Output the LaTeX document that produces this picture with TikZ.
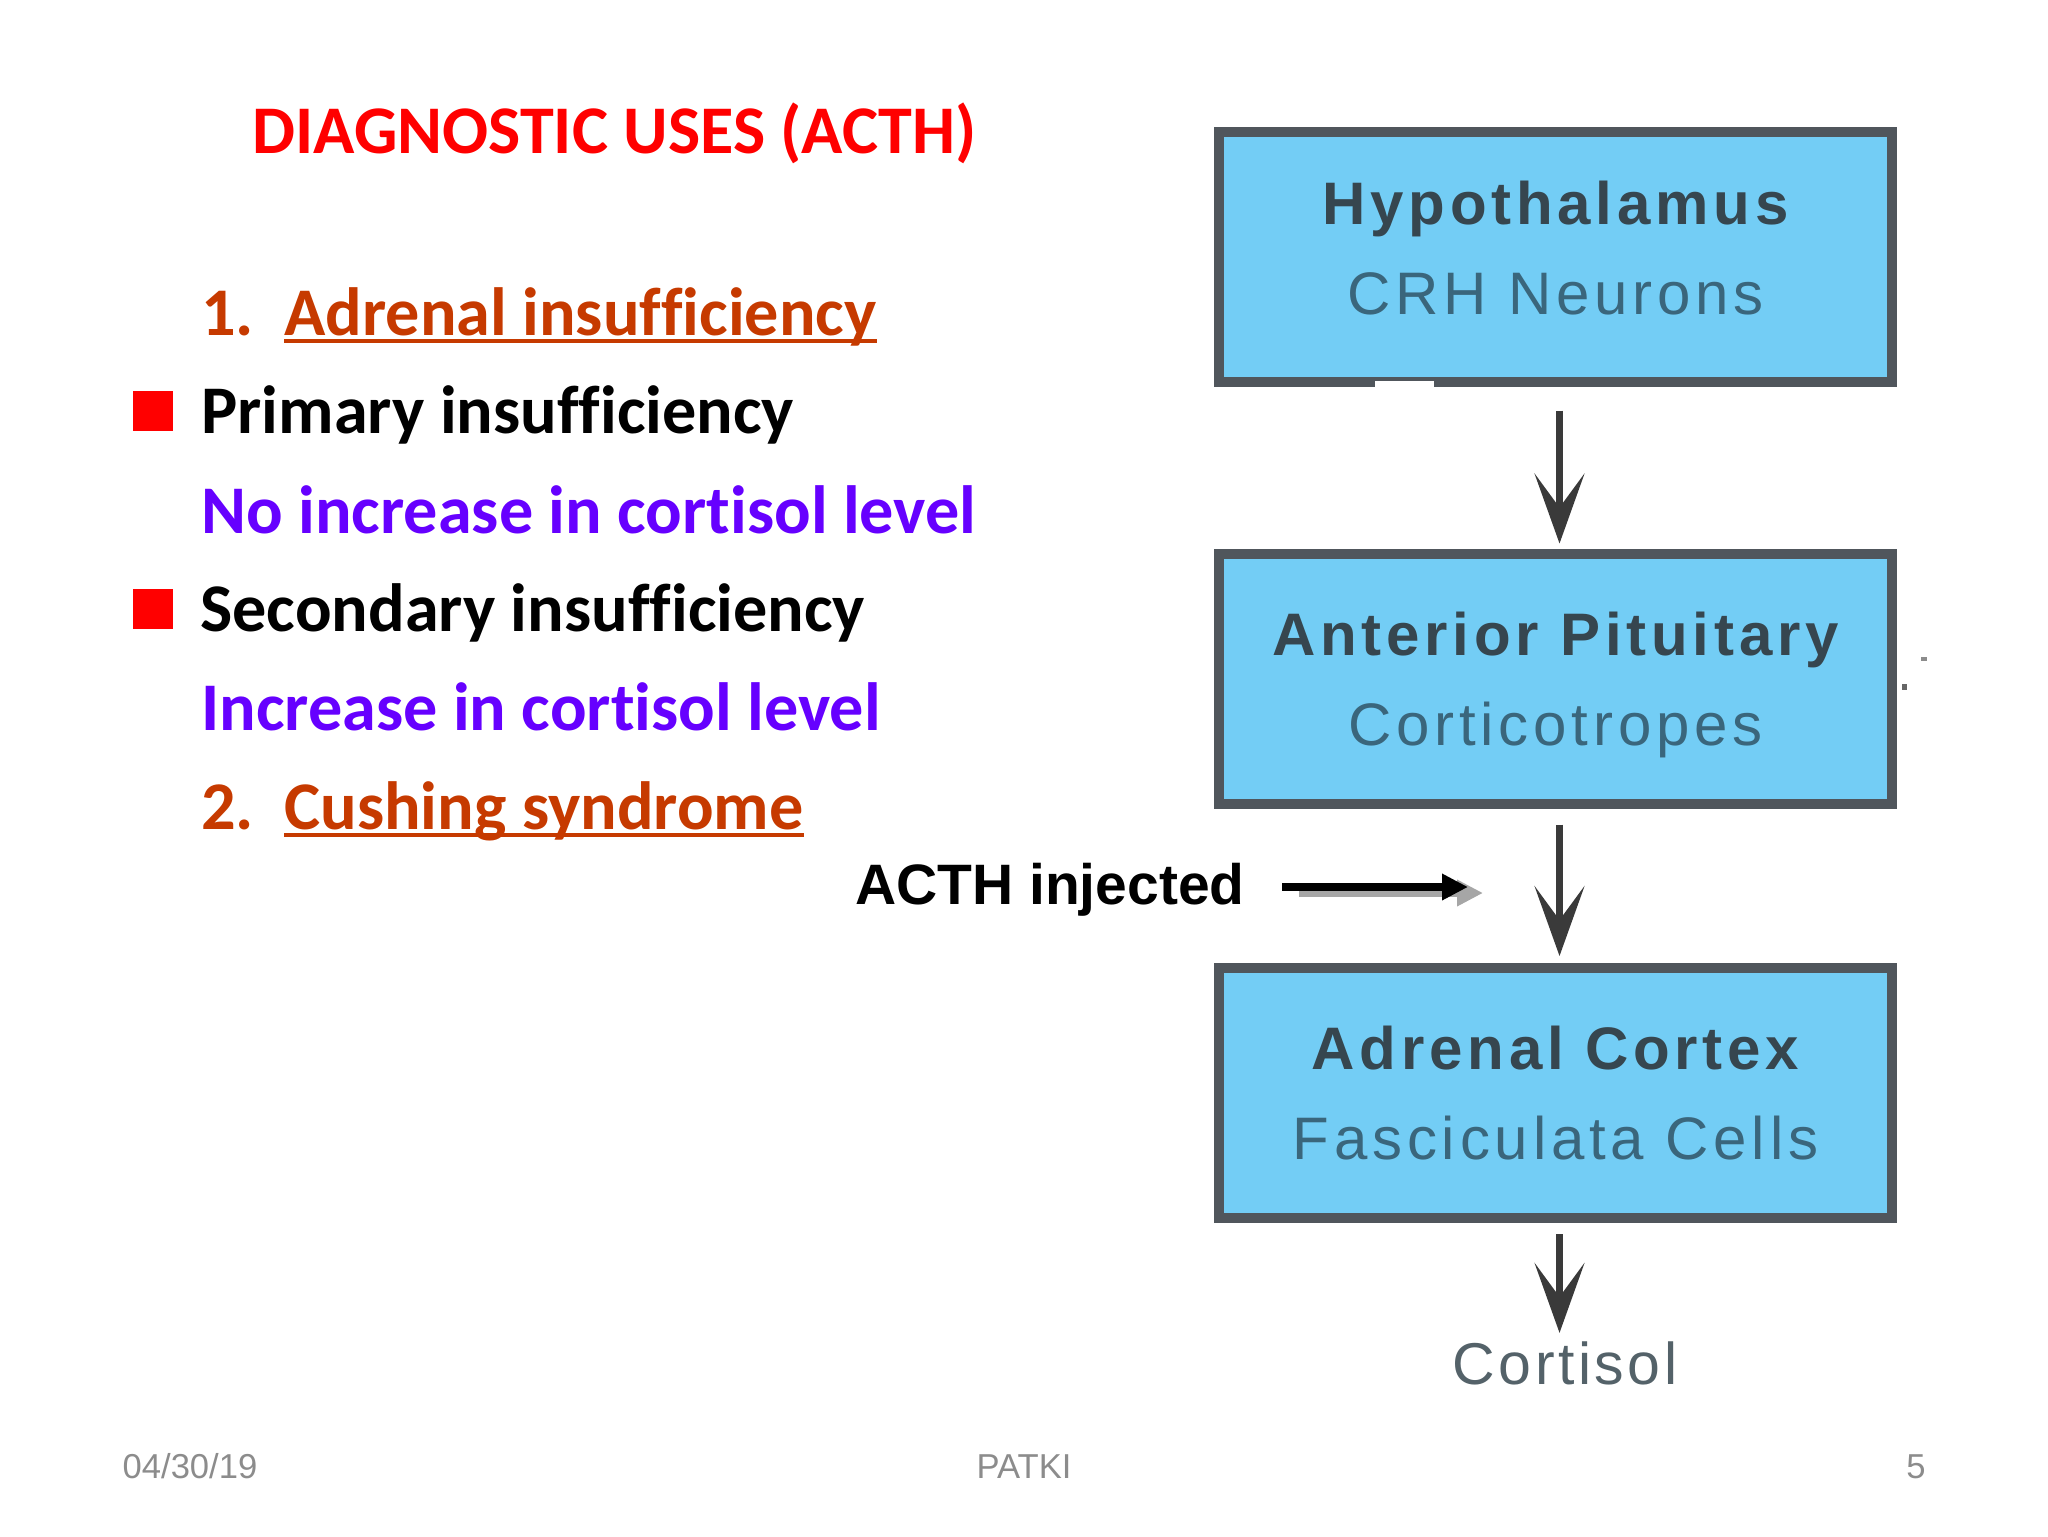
\documentclass[tikz,border=0pt]{standalone}
\usepackage{fontspec}
\setmainfont[Ligatures=NoCommon]{Carlito}
\newfontfamily\arialfont{Liberation Sans}
\newfontfamily\boxfont[LetterSpace=8]{Liberation Sans}
\newfontfamily\tightfont[LetterSpace=6]{Liberation Sans}
\usetikzlibrary{arrows.meta}

\definecolor{boxblue}{HTML}{73CDF5}
\definecolor{boxline}{HTML}{50565C}
\definecolor{boxtext}{HTML}{36464F}
\definecolor{subtext}{HTML}{3A667C}
\definecolor{numcolor}{HTML}{C63A00}
\definecolor{notecolor}{HTML}{6600FF}
\definecolor{footcolor}{HTML}{8C8C8C}
\definecolor{arrowgray}{HTML}{3A3A3A}

\newcommand{\toptext}[1]{{\color{boxtext}\bfseries #1}}
\newcommand{\subtext}[1]{{\color{subtext}#1}}

\begin{document}
\begin{tikzpicture}[x=0.5pt,y=-0.5pt]

\tikzset{organ/.style = {shape=rectangle,draw=boxline,fill=boxblue,line width=5pt,minimum width=336.5pt,minimum height=125pt,align=center,inner sep=0pt,font=\boxfont\fontsize{30}{45}\selectfont}}
\tikzset{body/.style = {anchor=base west,inner sep=0pt,font=\bfseries\fontsize{34.1}{40}\selectfont}}
\tikzset{foot/.style = {anchor=base,inner sep=0pt,text=footcolor,font=\arialfont\fontsize{17.3}{20}\selectfont}}
\tikzset{bullet/.style = {shape=rectangle,fill=red,minimum size=20pt,inner sep=0pt}}
\tikzset{edge/.style = {draw=arrowgray,line width=3.2pt,-{Stealth[length=35pt,width=25pt,inset=17pt]}}}
\tikzset{under/.style = {draw=numcolor,line width=1.8pt}}

\useasboundingbox (0,0) rectangle (2048,1536);

%title and list
\node[body,text=red] (title) at (252,153) {DIAGNOSTIC USES (ACTH)};
\node[body,text=numcolor] (one) at (201,335) {1.};
\node[body,text=numcolor] (adrenalins) at (284,335) {Adrenal insufficiency};
\node[bullet] (bulleta) at (153,411) {};
\node[body] (primary) at (201,433) {Primary insufficiency};
\node[body,text=notecolor] (noinc) at (201,533) {No increase in cortisol level};
\node[bullet] (bulletb) at (153,609) {};
\node[body] (secondary) at (200,631) {Secondary insufficiency};
\node[body,text=notecolor] (inc) at (201,730) {Increase in cortisol level};
\node[body,text=numcolor] (two) at (201,829) {2.};
\node[body,text=numcolor] (cushing) at (284,829) {Cushing syndrome};
\draw[under] ([yshift=-3pt]adrenalins.base west) to ([yshift=-3pt]adrenalins.base east);
\draw[under] ([yshift=-3pt]cushing.base west) to ([yshift=-3pt]cushing.base east);

%boxes
\node[organ] (hypo) at (1555.5,256.5) {\toptext{Hypothalamus}\\\subtext{CRH Neurons}\rule[-9pt]{0pt}{0pt}};
\node[organ] (pituitary) at (1555.5,678.5) {\rule{0pt}{28pt}\toptext{Anterior Pituitary}\\\subtext{Corticotropes}};
\node[organ] (cortex) at (1555.5,1093) {\toptext{Adrenal Cortex}\\\subtext{Fasciculata Cells}};
\node[anchor=base,inner sep=4pt,text=boxtext!85,font=\tightfont\fontsize{29.5}{36}\selectfont] (cortisol) at (1565,1384) {Cortisol};

%gap in the first box and specks by the second
\fill[white] (1375,381) rectangle (1434,388);
\fill[black!45] (1921,657) rectangle (1927,661);
\fill[black!60] (1902,684) rectangle (1907,690);

%edges
\draw[edge,shorten <=12pt,shorten >=2.5pt] ([xshift=2pt]hypo.south) to ([xshift=2pt]pituitary.north);
\draw[edge,shorten <=8pt,shorten >=3.5pt] ([xshift=2pt]pituitary.south) to ([xshift=2pt]cortex.north);
\draw[edge,shorten <=5.5pt] ([xshift=2pt]cortex.south) to ([xshift=2pt]cortex.south |- cortisol.north);

%injection arrow
\node[anchor=base,inner sep=0pt,font=\arialfont\bfseries\fontsize{28.5}{34}\selectfont] (acth) at (1050,904) {ACTH injected};
\coordinate (acthend) at (1468,887);
\draw[draw=black!35,line width=4pt,shorten <=19.5pt,-{Triangle[length=13pt,width=12.5pt]}] ([shift={(15,6)}]acth.east |- acthend) to ([shift={(15,6)}]acthend);
\draw[draw=black,line width=4pt,shorten <=18.5pt,-{Triangle[length=13pt,width=12.5pt]}] (acth.east |- acthend) to (acthend);

%footer
\node[foot] (date) at (190,1478) {04/30/19};
\node[foot] (patki) at (1024,1478) {PATKI};
\node[foot] (page) at (1916,1478) {5};

\end{tikzpicture}
\end{document}
